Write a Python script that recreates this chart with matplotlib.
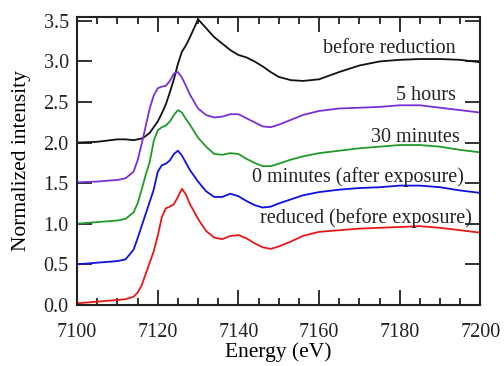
import matplotlib
matplotlib.use('Agg')
import matplotlib.pyplot as plt
from matplotlib.ticker import MultipleLocator

# data (energy in eV, normalized intensity with offsets)
energy = [7100, 7105, 7110, 7112, 7114, 7115, 7116, 7117, 7118, 7119,
          7120, 7121, 7122, 7123, 7124, 7125, 7126, 7127, 7128, 7130,
          7132, 7134, 7136, 7138, 7140, 7142, 7144, 7146, 7148, 7150,
          7153, 7156, 7160, 7165, 7170, 7175, 7180, 7185, 7190, 7195, 7200]

reduced = [0.02, 0.04, 0.06, 0.07, 0.10, 0.15, 0.24, 0.38, 0.52, 0.66,
           0.85, 1.08, 1.19, 1.21, 1.24, 1.33, 1.43, 1.36, 1.24, 1.06,
           0.91, 0.83, 0.81, 0.85, 0.86, 0.82, 0.76, 0.71, 0.69, 0.72,
           0.78, 0.85, 0.90, 0.92, 0.94, 0.95, 0.96, 0.97, 0.95, 0.92, 0.89]

min0 = [0.50, 0.52, 0.54, 0.56, 0.68, 0.82, 0.97, 1.12, 1.27, 1.42,
        1.64, 1.72, 1.74, 1.78, 1.86, 1.90, 1.84, 1.75, 1.66, 1.52,
        1.40, 1.33, 1.33, 1.37, 1.34, 1.28, 1.23, 1.20, 1.21, 1.25,
        1.30, 1.35, 1.39, 1.42, 1.44, 1.45, 1.47, 1.47, 1.45, 1.41, 1.38]

min30 = [1.00, 1.02, 1.04, 1.06, 1.14, 1.25, 1.42, 1.60, 1.76, 2.02,
         2.15, 2.19, 2.21, 2.26, 2.34, 2.40, 2.37, 2.29, 2.22, 2.06,
         1.95, 1.86, 1.85, 1.87, 1.86, 1.80, 1.75, 1.71, 1.71, 1.74,
         1.79, 1.83, 1.87, 1.90, 1.93, 1.95, 1.97, 1.97, 1.95, 1.91, 1.88]

hours5 = [1.51, 1.52, 1.54, 1.56, 1.64, 1.78, 1.98, 2.20, 2.42, 2.58,
          2.67, 2.69, 2.70, 2.76, 2.85, 2.87, 2.80, 2.70, 2.59, 2.42,
          2.34, 2.31, 2.32, 2.35, 2.35, 2.30, 2.25, 2.20, 2.19, 2.22,
          2.28, 2.34, 2.39, 2.42, 2.43, 2.44, 2.46, 2.46, 2.43, 2.40, 2.37]

before = [2.00, 2.01, 2.04, 2.04, 2.03, 2.04, 2.05, 2.08, 2.12, 2.19,
          2.26, 2.36, 2.47, 2.62, 2.78, 2.97, 3.12, 3.20, 3.30, 3.52,
          3.41, 3.30, 3.22, 3.14, 3.08, 3.05, 3.00, 2.94, 2.87, 2.81,
          2.77, 2.76, 2.78, 2.87, 2.95, 3.00, 3.02, 3.03, 3.03, 3.02, 2.99]

labels = ['before reduction', '5 hours', '30 minutes',
          '0 minutes (after exposure)', 'reduced (before exposure)']
label_x = [7194, 7194, 7195, 7196, 7198]
label_y = [3.16, 2.58, 2.06, 1.57, 1.07]

series = [before, hours5, min30, min0, reduced]
colors = ['#111111', '#7a2fd6', '#1f9a2a', '#1010e0', '#e81818']

plt.rcParams['font.family'] = ['Liberation Serif', 'DejaVu Serif']

fig = plt.figure(figsize=(5.04, 3.66), dpi=100)
ax = fig.add_axes([0.153, 0.167, 0.80, 0.787])

for y, c in zip(series, colors):
    ax.plot(energy, y, '-', color=c, linewidth=1.3)

for s, x, y in zip(labels, label_x, label_y):
    ax.text(x, y, s, ha='right', va='center', fontsize=14.5, color='#222222')

ax.set_xlim(7100, 7200)
ax.set_ylim(0, 3.55)
ax.xaxis.set_major_locator(MultipleLocator(20))
ax.xaxis.set_minor_locator(MultipleLocator(5))
ax.yaxis.set_major_locator(MultipleLocator(0.5))
ax.yaxis.set_major_formatter(matplotlib.ticker.FormatStrFormatter('%.1f'))
ax.tick_params(which='both', direction='in', top=True, right=True,
               labelsize=14.5, width=1.3, colors='#222222')
ax.tick_params(which='major', length=11)
ax.tick_params(which='minor', length=5)
ax.tick_params(axis='x', which='major', pad=13)
ax.tick_params(axis='y', which='major', pad=6)
for sp in ax.spines.values():
    sp.set_linewidth(1.5)
    sp.set_color('#222222')

ax.set_xlabel('Energy (eV)', fontsize=15.5, labelpad=0)
ax.set_ylabel('Normalized intensity', fontsize=15.5, labelpad=9)

fig.savefig('out.png', dpi=100)
